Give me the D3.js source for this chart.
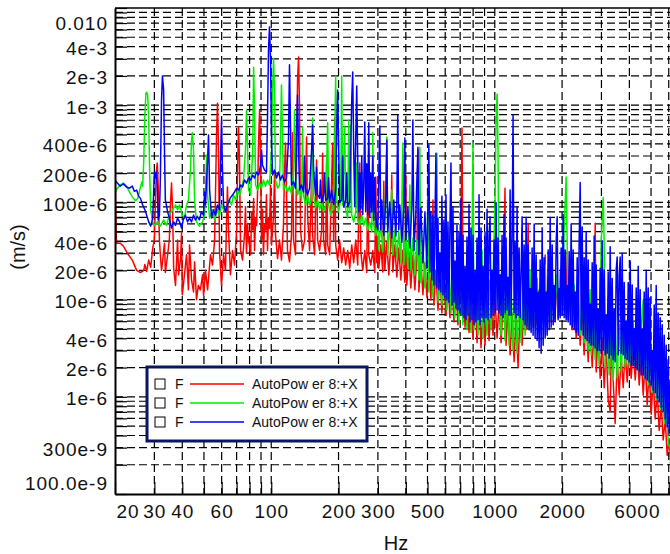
<!DOCTYPE html>
<html>
<head>
<meta charset="utf-8">
<script src="https://cdn.jsdelivr.net/npm/d3@7"></script>
<style>
  body { margin: 0; background: #fff; }
  svg { display: block; font-family: "Liberation Sans", Arial, sans-serif; }
</style>
</head>
<body>
<svg id="chart" width="670" height="554"></svg>
<script>
// values are [Hz, um/s]
const UM = 1e-6;

const xDomain = [20, 6400];
const yDomain = [1e-7, 1e-2];

const xTickVals = [20, 30, 40, 60, 100, 200, 300, 500, 1000, 2000, 6000];
const xTickText = ["20", "30", "40", "60", "100", "200", "300", "500", "1000", "2000", "6000"];
const yTickVals = [1e-2, 4e-3, 2e-3, 1e-3, 4e-4, 2e-4, 1e-4, 4e-5, 2e-5, 1e-5, 4e-6, 2e-6, 1e-6, 3e-7, 1e-7];
const yTickText = ["0.010", "4e-3", "2e-3", "1e-3", "400e-6", "200e-6", "100e-6", "40e-6", "20e-6", "10e-6", "4e-6", "2e-6", "1e-6", "300e-9", "100.0e-9"];

const legendNames = ["F", "F", "F"];
const legendLabels = ["AutoPower 8:+X", "AutoPower 8:+X", "AutoPower 8:+X"];
const seriesColors = ["#ff0000", "#00ee00", "#0000ff"];

const redPts = [[20,273],[20.1,106],[20.3,38],[21.1,38],[21.8,35.5],[22.7,30],[23.9,25.5],[25,20],[26,19],[26.9,20],[27.2,23],[27.7,19.5],[28.3,25.5],[28.9,21.5],[29.5,34],[30,41],[30.3,94],[30.6,205],[30.9,254],[31.2,151],[31.6,41],[31.9,29],[32.3,20],[32.6,24],[33.3,38],[33.6,19],[34.4,29],[35,41],[35.4,94],[35.8,158],[36.2,84],[36.6,21],[37.3,14],[38.1,41],[38.5,18],[39.3,26.5],[39.7,49.6],[40,11.2],[40.9,18],[41.8,29],[42.6,12.6],[43.1,36.5],[44,16],[44.9,12],[45.4,24.5],[46.3,10],[47.2,14],[48.2,12.6],[49.3,18],[49.8,11],[50.8,20],[51.9,12.6],[52.4,16.5],[53.5,29],[54.6,22.7],[55.8,41],[56.3,119],[56.9,494],[57.5,1050],[58.1,346],[58.7,32],[59.9,14],[61.2,29],[62.4,20],[63.1,66],[63.7,144],[64.4,52],[65.7,18],[67.1,32],[68.5,22.7],[70,52],[70.7,215],[71.4,600],[72.1,273],[72.9,32],[74.4,25.5],[75.9,46],[76.7,90],[77.5,30],[78.3,60],[79.2,41],[80.9,29],[81.7,80],[82.6,52],[83.4,110],[84.2,32],[85.1,70],[86,58],[86.9,134],[87.8,439],[88.7,893],[89.6,273],[90.5,41],[91.4,85],[92.3,29],[93.3,60],[94.3,52],[95.2,120],[96.2,32],[97.2,70],[98.2,54],[99.3,150],[100.3,36.5],[102.4,74],[103.5,205],[104.5,46],[106.7,26.5],[108.9,41],[111.1,25.5],[113.4,58],[114.6,191],[115.8,408],[117,134],[118.2,32],[120.7,24.5],[123.2,46],[124.5,520],[125.8,41],[128.4,29],[129.8,273],[131.1,1815],[132.5,3130],[133.9,893],[135.2,52],[138,32],[141,41],[143.9,470],[145.4,74],[148.4,32],[151.5,170],[153.1,46],[156.3,29],[159.5,273],[161.2,41],[164.6,32],[168,52],[169.8,320],[171.5,41],[175.1,29],[176.9,280],[178.8,36.5],[182.5,29],[188.2,408],[190.2,41],[192.2,740],[194.2,36.5],[198.2,25.5],[202.3,41],[206.6,24],[210.9,34],[215.3,22.7],[219.8,32],[224.4,21],[229.1,36.5],[233.8,24],[238.7,41],[243.7,22.7],[248.8,254],[251.4,32],[256.6,20],[262,32],[267.5,19],[270.3,230],[273,29],[278.8,22.7],[284.6,32],[290.5,19],[293.5,182],[296.5,24],
  [299.6,41],[302.7,21],[309,36.5],[315.5,19.2],[318.8,165],[322,20.2],[329,39],[335.7,17.9],[342.7,36.5],[346,191],[350,19.2],[357,36.5],[364.6,17.1],[372,34],[380,15.9],[388,32.4],[396,15],[400,191],[404,14.1],[412.7,31],[421,13.2],[430,28.8],[439,12.6],[448,27],[453,346],[457.6,12],[467,25.5],[477,11.2],[487,24],[497,10.5],[507,22.7],[518,9.9],[529,106],[534,8.8],[545,20.2],[557,7.8],[568,19.2],[580,7.3],[592,16.5],[605,6.9],[617,15.9],[630,6.5],[643,15],[657,5.9],[670,14.1],[684,5.5],[699,12.6],[706,32.4],[713,582],[720,25.5],[736,5.2],[751,12],[767,4.6],[783,11.2],[799,4.0],[816,10.5],[833,3.6],[850,9.9],[868,3.2],[886,8.8],[904,3.4],[923,9.9],[943,3.8],[962,10.5],[982,4.3],[1003,9.9],[1024,4.0],[1045,9.4],[1067,3.6],[1089,8.8],[1111,140],[1123,3.4],[1147,7.8],[1171,2.7],[1195,7.3],[1220,2.3],[1245,6.9],[1271,2.0],[1298,7.8],[1325,3.4],[1353,9.9],[1381,4.9],[1410,61],[1425,4.9],[1454,11.2],[1485,5.2],[1516,12],[1547,5.5],[1580,12.6],[1612,5.9],[1646,12.6],[1680,28.8],[1697,5.5],[1733,12],[1769,5.9],[1806,13.2],[1843,6.2],[1882,14.1],[1921,6.5],[1961,14.1],[2002,6.9],[2043,15],[2086,6.5],[2107,31],[2129,6.2],[2174,13.2],[2219,4.9],[2265,11.2],[2313,4.0],[2361,9.9],[2410,3.4],[2460,8.2],[2511,2.7],[2563,6.9],[2617,2.3],[2671,6.2],[2727,2.0],[2784,5.5],[2813,61],[2842,1.8],[2901,4.9],[2961,1.55],[3023,4.0],[3086,1.24],[3150,3.4],[3216,0.93],[3283,0.71],[3317,2.7],[3351,5.2],[3386,1.49],[3456,0.53],[3528,2.4],[3602,1.04],[3677,2.7],[3753,1.24],[3831,3.0],[3911,1.42],[3993,3.2],[4076,1.55],[4161,3.4],[4247,1.49],[4336,3.0],[4426,1.32],[4518,2.7],[4612,1.04],[4708,2.3],[4806,0.83],[4906,1.9],[5008,0.66],[5112,1.55],[5219,0.59],[5327,1.17],[5438,0.45],[5551,0.83],[5667,0.36],[5785,0.59],[5905,0.25],[6028,0.37],[6154,0.16],[6282,0.12]];

const greenPts = [[20,125],[20.5,140],[21.1,151],[21.8,158],[22.5,147],[23.2,128],[23.9,114],[24.7,104],[25.3,110],[25.8,134],[26.4,163],[26.6,147],[26.9,273],[27.2,793],[27.5,1330],[27.7,1360],[28,1270],[28.3,705],[28.6,191],[28.9,84],[29.5,63],[30,58],[30.9,63],[31.9,57],[33,66],[34,58],[35,74],[36.2,84],[37.3,94],[38.1,84],[38.9,94],[40,74],[40.9,69],[41.8,94],[42.6,106],[43.5,215],[44,439],[44.4,520],[44.9,346],[45.4,106],[46.3,63],[47.7,57],[49.3,63],[50.3,74],[50.8,134],[51.4,307],[51.9,119],[53,69],[54.6,84],[55.8,66],[57.5,84],[58.7,74],[59.9,94],[61.8,80],[63.7,94],[65,106],[66.4,94],[67.8,119],[69.2,106],[70.7,134],[72.1,119],[73.6,140],[75.1,170],[76.7,346],[77.5,893],[78.3,390],[79.2,134],[80.9,119],[82.6,346],[83.4,2460],[84.2,893],[85.1,151],[86.9,134],[88.7,158],[90.5,140],[92.3,170],[94.3,147],[96.2,170],[98.2,151],[100.3,346],[101.4,1430],[102.4,3050],[103.5,1270],[104.5,170],[106.7,140],[108.9,151],[110,439],[111.1,1614],[112.2,556],[113.4,134],[115.8,151],[118.2,128],[120.7,147],[123.2,122],[125.8,215],[127.1,893],[128.4,191],[131.1,119],[133.9,140],[136.6,106],[138,600],[139.5,119],[142.4,94],[145.4,119],[148.4,94],[151.5,110],[153.1,740],[154.7,119],[157.9,88],[161.2,106],[164.6,84],[168,101],[171.5,80],[175.1,94],[178.8,660],[180.6,94],[184.4,74],[188.2,94],[190.2,84],[194.2,2000],[196.2,106],[200,80],[204.4,106],[206.6,2000],[208.7,94],[213.1,600],[215.3,84],[219.8,69],[222.1,705],[224.4,80],[226.7,626],[229.1,74],[233.8,63],[238.7,80],[241.2,254],[243.7,66],[248.8,58],[254,74],[259.3,58],[264.7,69],[270.3,52],[276,63],[281.7,50],[284.6,520],[287.5,58],[293.5,46],
  [299.6,58.5],[302.7,32.4],[309,63],[315.5,31],[322,58.5],[329,470],[332,28.8],[339,54.5],[346,134],[350,28.8],[357,52],[364.6,27],[372,49.6],[380,24],[388,408],[392,22.7],[400,46],[408.5,21],[417,151],[421,20.2],[430,43],[439,17.9],[448,41],[457.6,15.9],[462,370],[467,15],[477,36.5],[487,13.2],[497,34],[502,106],[507,12],[518,31],[529,10.5],[540,28.8],[551,320],[557,9.4],[568,27],[580,8.8],[592,24],[605,84],[611,7.8],[624,22.7],[637,7.3],[650,21],[663,6.5],[677,20.2],[691,5.9],[699,52],[706,19.2],[720,5.5],[736,17.9],[751,4.9],[767,16.5],[783,4.6],[799,408],[807,4.9],[824,15],[841,4.3],[859,15.9],[877,32.4],[886,4.0],[904,15],[923,4.3],[943,15.9],[962,4.9],[982,16.5],[1003,106],[1013,705],[1024,1300],[1034,346],[1045,9.9],[1067,4.3],[1089,14.1],[1111,3.8],[1135,13.2],[1159,3.4],[1183,12.6],[1207,3.0],[1232,12],[1258,2.8],[1284,12.6],[1311,3.6],[1339,14.1],[1367,4.3],[1396,15],[1425,4.9],[1439,20.2],[1454,4.9],[1485,15.9],[1516,5.2],[1547,16.5],[1580,5.5],[1612,15.9],[1646,5.9],[1680,22.7],[1697,5.9],[1733,16.5],[1769,6.2],[1806,17.9],[1843,6.5],[1882,17.9],[1921,6.5],[1961,19.2],[2002,6.9],[2043,52],[2086,182],[2107,41],[2129,6.5],[2174,15.9],[2219,5.9],[2265,14.1],[2313,5.2],[2361,13.2],[2410,4.3],[2460,12],[2511,3.6],[2563,10.5],[2617,3.0],[2671,12.6],[2699,2.7],[2755,8.8],[2813,2.4],[2871,7.8],[2931,2.1],[2992,38],[3055,112],[3086,38],[3118,2.0],[3183,6.5],[3249,1.68],[3317,5.9],[3386,1.49],[3456,5.5],[3528,1.55],[3602,5.5],[3677,1.8],[3753,5.9],[3831,2.0],[3911,6.2],[3993,2.1],[4034,6.2],[4076,2.1],[4161,5.9],[4247,2.0],[4336,5.5],[4426,1.8],[4518,4.9],[4612,9.9],[4660,1.55],[4757,4.3],[4856,1.32],[4957,3.8],[5060,1.1],[5165,3.8],[5273,0.93],[5383,2.7],[5495,0.74],[5609,1.9],[5726,0.53],[5845,1.04],[5967,0.33],[6091,0.30],[6218,0.19],[6347,0.16]];

const bluePts = [[20,170],[20.5,158],[21.1,147],[21.8,155],[22.5,144],[23.2,140],[23.9,147],[24.4,130],[25,134],[25.5,116],[26,110],[26.6,94],[27.2,84],[27.7,74],[28.3,63],[28.9,57],[29.5,69],[30,205],[30.3,178],[30.6,205],[30.9,151],[31.2,66],[31.6,74],[31.9,170],[32.3,1130],[32.6,2000],[33,1430],[33.3,346],[33.6,106],[34.4,80],[35,69],[35.8,54.5],[36.6,63],[37.3,58],[38.1,69],[38.9,63],[39.7,54.5],[40.4,66],[41.3,74],[42.2,63],[43.1,69],[44,63],[44.9,74],[45.8,66],[46.7,72],[47.7,66],[48.7,80],[49.8,74],[50.3,128],[50.8,94],[51.9,273],[52.4,494],[53,134],[54.1,69],[55.2,84],[56.3,74],[57.5,94],[58.7,84],[59.3,273],[59.9,705],[60.5,215],[61.2,94],[62.4,80],[63.7,94],[65,106],[65.7,112],[67.1,119],[68.5,128],[70,140],[71.4,134],[72.9,151],[74.4,144],[75.9,170],[77.5,158],[79.2,178],[80.9,170],[82.6,191],[84.2,178],[86,205],[87.8,191],[89.6,243],[90.5,346],[91.4,243],[93.3,215],[95.2,205],[96.2,705],[97.2,3700],[98.2,6380],[99.3,2917],[100.3,439],
  [101.4,191],[103.5,215],[105.6,178],[107.8,205],[110,170],[112.2,191],[114.6,163],[117,178],[119.4,439],[120.7,2600],[122,556],[123.2,151],[125.8,163],[128.4,140],[129.8,556],[131.1,1270],[132.5,346],[133.9,134],[136.6,151],[139.5,128],[141,300],[142.4,140],[145.4,119],[148.4,140],[151.5,346],[153.1,626],[154.7,215],[157.9,119],[159.5,230],[161.2,120],[164.6,110],[166,170],[168,100],[171.5,119],[173,200],[175.1,105],[178.8,110],[180.6,180],[182.5,100],[186.3,134],[190.2,95],[194.2,134],[196.2,556],[198.2,1430],[200.3,346],[202.3,100],[206.6,106],[208.7,300],[210.9,90],[215.3,106],[217.5,200],[219.8,90],[224.4,101],[226.7,346],[229.1,1130],[231.4,2200],[233.8,346],[236.3,90],[238.7,439],[241.2,1580],[243.7,273],[246.2,80],[248.8,200],[251.4,85],[254,300],[256.6,75],[259.3,150],[262,670],[264.7,80],[267.5,250],[270.3,75],[273,660],[276,70],[278.8,200],[281.7,80],[284.6,300],[287.5,65],[290.5,180],[293.5,70],
  [299.6,52],[306,610],[309,52],[312,106],[319,46],[325.5,110],[329,439],[332,49.6],[339,101],[346,43],[353.5,106],[361,45],[364.6,106],[368,793],[372,52],[376,94],[384,39],[392,94],[396,460],[400,41],[408.5,88],[417,34],[426,94],[430,705],[435,32],[444,84],[453,370],[457.6,29],[467,88],[477,24],[487,80],[497,21],[507,390],
  [512.6,19.2],[517.9,80],[523.3,15.9],[528.7,74],[534.2,14.1],[539.8,63],[545.4,320],[551,13.2],[556.8,69],[562.5,12.6],[568.4,30],[574.3,12],[580.2,116],[586.2,11.2],[592.3,66],[598.5,10.5],[604.7,120],[610.9,9.9],[617.3,63],[623.7,9.4],[630.2,58.5],[636.7,254],[643.3,8.8],[650,90],[656.8,9.4],[663.6,25],[670.5,8.2],[677.4,58.5],[684.5,7.8],[691.6,49.6],[698.7,7.3],[706,110],[713.3,6.9],[720.7,46],[728.2,6.5],[735.8,22],[743.4,6.2],[751.1,44],[758.9,6.9],[766.8,95],[774.7,5.9],[782.8,54.5],[790.9,6.2],[799.1,46],[807.4,5.5],[815.8,20],[824.2,5.9],[832.8,43],[841.4,6.2],[850.2,120],[859,5.5],[867.9,54.5],[876.9,6.5],[886,22],[895.2,5.9],[904.5,49.6],[913.9,6.5],[923.4,85],[932.9,6.2],[942.6,46],[952.4,71],[962.3,6.5],[972.2,20],[982.3,6.9],[992.5,41],[1002.8,7.3],[1013.2,100],[1023.7,7.8],[1034.3,43],[1045.1,7.3],[1056,18],[1067,6.9],[1078,46],[1089,6.5],[1100,75],[1112,7.3],[1123,43],[1135,7.8],[1147,17],[1159,6.9],[1171,134],[1183,6.9],[1195,41],[1207,793],[1220,7.3],[1233,39],[1245,6.5],[1258,90],[1271,6.9],[1285,34],[1298,6.5],[1311,17],[1325,71],[1339,6.2],[1353,36.5],[1367,5.5],[1381,70],[1395,5.2],[1410,36.5],[1424,4.9],[1439,13],[1454,4.6],[1469,34],[1484,4.3],[1500,60],[1515,4.0],[1531,28.8],[1547,3.8],[1563,12],[1579,3.2],[1596,25.5],[1612,2.8],[1629,55],[1646,3.4],[1663,27],[1680,4.0],[1697,12],[1715,4.3],[1733,32.4],[1751,4.9],[1769,70],[1787,5.2],[1806,36.5],[1825,5.5],[1843,14],[1863,5.9],[1882,39],[1901,71],[1921,6.2],[1941,13],[1961,6.5],[1981,34],[2002,6.9],[2022,75],[2043,6.5],[2065,32.4],[2086,6.2],[2108,14],[2129,5.9],[2152,31],[2174,5.5],[2196,60],[2219,5.2],[2242,32.4],[2265,4.9],[2289,12],[2313,4.6],[2337,27],[2361,4.3],[2385,41],[2410,160],[2435,4.9],[2460,56],[2486,4.3],[2511,27],[2537,4.0],[2563,50],[2590,3.8],[2617,25.5],[2644,3.6],[2671,9],[2699,3.4],[2727,24],[2755,3.4],[2784,45],[2813,3.2],[2842,22.7],[2871,3.0],[2901,8],[2931,3.0],[2961,21],[2992,2.8],[3023,40],[3054,3.0],[3086,20.2],[3118,2.7],[3150,7],[3183,2.8],[3216,19.2],[3249,2.5],[3283,35],[3317,2.7],[3351,16.5],[3386,2.4],[3421,8],[3456,2.3],[3492,20.2],[3528,27.4],[3565,2.7],[3602,17.9],[3639,27.4],[3677,2.8],[3715,30],[3753,2.7],[3792,15],[3831,2.5],[3871,6],[3911,2.4],[3952,15],[3993,2.3],[4034,25],[4076,2.1],[4118,14.1],[4161,2.1],[4204,5],[4247,2.0],[4291,13.2],[4336,1.9],[4381,22],[4426,1.8],[4472,12.6],[4518,1.68],[4565,5],[4612,1.68],[4660,12],[4708,1.55],[4757,20],[4806,1.49],[4856,13.2],[4906,1.42],[4957,10.5],[5008,1.32],[5060,3],[5112,1.17],[5165,8.8],[5219,1.1],[5273,14],[5327,0.97],[5383,7.3],[5438,0.89],[5495,6.5],[5551,0.78],[5609,5.5],[5667,0.71],[5726,4.3],[5785,0.59],[5845,3.4],[5905,0.49],[5967,2.4],[6028,0.42],[6091,1.49],[6154,0.33],[6218,0.93],[6282,0.27],[6347,0.47]];

const series = [redPts, greenPts, bluePts];

const plot = {left: 115, right: 675, top: 8, bottom: 494};
const svg = d3.select("#chart");

const x = d3.scaleLog().domain(xDomain).range([plot.left, plot.right]);
const y = d3.scaleLog().domain(yDomain).range([plot.bottom, plot.top]);

function sameLog(a, b) { return Math.abs(Math.log10(a) - Math.log10(b)) < 1e-6; }

const gridX = x.ticks().filter(d => d > xDomain[0] * 1.001);
const gridY = y.ticks().filter(d => d > yDomain[0] * 1.001 && d < yDomain[1] * 0.999);

svg.append("defs").append("clipPath").attr("id", "plotclip")
    .append("rect")
    .attr("x", plot.left).attr("y", plot.top)
    .attr("width", plot.right - plot.left).attr("height", plot.bottom - plot.top);

// dashed grid
let grid = svg.append("g").attr("class", "grid")
    .attr("stroke", "#000").attr("stroke-width", 1.2).attr("stroke-dasharray", "8,4");
grid.selectAll(".gx").data(gridX).join("line").attr("class", "gx")
    .attr("x1", d => x(d)).attr("x2", d => x(d))
    .attr("y1", plot.top).attr("y2", plot.bottom);
grid.selectAll(".gy").data(gridY).join("line").attr("class", "gy")
    .attr("x1", plot.left).attr("x2", plot.right)
    .attr("y1", d => y(d)).attr("y2", d => y(d));

// spectra
let line = d3.line()
    .x(d => x(d[0]))
    .y(d => y(d[1] * UM));

svg.append("g").attr("clip-path", "url(#plotclip)")
    .selectAll("path").data(series).join("path")
    .attr("d", d => line(d))
    .attr("fill", "none")
    .attr("stroke", (d, i) => seriesColors[i])
    .attr("stroke-width", 1.5)
    .attr("stroke-linejoin", "round");

// axes
let xAxis = d3.axisBottom(x)
    .tickValues([xDomain[0]].concat(gridX))
    .tickSize(-12).tickSizeOuter(0).tickPadding(11)
    .tickFormat(d => {
        let i = xTickVals.findIndex(v => sameLog(v, d));
        return i < 0 ? "" : xTickText[i];
    });

let gx = svg.append("g").attr("transform", "translate(0," + plot.bottom + ")").call(xAxis);

let yAxis = d3.axisLeft(y)
    .tickValues([yDomain[0]].concat(gridY, [yDomain[1]]))
    .tickSize(-12).tickSizeOuter(0).tickPadding(7)
    .tickFormat(d => {
        let i = yTickVals.findIndex(v => sameLog(v, d));
        return i < 0 ? "" : yTickText[i];
    });

let gy = svg.append("g").attr("transform", "translate(" + plot.left + ",0)").call(yAxis);

[gx, gy].forEach(g => {
    g.select(".domain").attr("stroke", "#000").attr("stroke-width", 2);
    g.selectAll(".tick line").attr("stroke", "#000").attr("stroke-width", 1.2);
    g.selectAll(".tick text")
        .attr("fill", "#111")
        .style("font-size", "19px")
        .style("letter-spacing", "1px")
        .style("font-family", "'Liberation Sans', Arial, sans-serif");
});

gy.selectAll(".tick text").attr("dy", "0.42em");

// end labels are pushed inside the frame
gx.selectAll(".tick text").filter(d => sameLog(d, xDomain[0]))
    .attr("text-anchor", "start").attr("x", 1);
gx.selectAll(".tick text").filter(d => sameLog(d, 6000))
    .attr("text-anchor", "end").attr("x", 660 - x(6000));
gy.selectAll(".tick text").filter(d => sameLog(d, yDomain[1])).attr("y", 14);
gy.selectAll(".tick text").filter(d => sameLog(d, yDomain[0])).attr("y", -12);

// top frame line
svg.append("line")
    .attr("x1", plot.left).attr("x2", plot.right)
    .attr("y1", plot.top).attr("y2", plot.top)
    .attr("stroke", "#000").attr("stroke-width", 1.6);

// axis titles
svg.append("text")
    .attr("transform", "translate(18,247) rotate(-90)")
    .attr("text-anchor", "middle").attr("dominant-baseline", "central")
    .style("font-size", "20px").attr("fill", "#111")
    .text("(m/s)");

svg.append("text")
    .attr("x", 396).attr("y", 550)
    .attr("text-anchor", "middle")
    .style("font-size", "20px").attr("fill", "#111")
    .text("Hz");

// legend
let legend = svg.append("g").attr("class", "legend");
legend.append("rect")
    .attr("x", 147).attr("y", 367).attr("width", 220).attr("height", 74)
    .attr("fill", "#fff").attr("stroke", "#0b1660").attr("stroke-width", 3);

let items = legend.selectAll(".item").data(legendLabels).join("g")
    .attr("class", "item")
    .attr("transform", (d, i) => "translate(0," + (384 + 19 * i) + ")");

items.append("rect")
    .attr("x", 155).attr("y", -5).attr("width", 10).attr("height", 10)
    .attr("fill", "#fff").attr("stroke", "#000").attr("stroke-width", 1);
items.append("text")
    .attr("x", 175).attr("dy", "0.35em")
    .style("font-size", "14px").attr("fill", "#111")
    .text((d, i) => legendNames[i]);
items.append("line")
    .attr("x1", 190).attr("x2", 244)
    .attr("stroke", (d, i) => seriesColors[i]).attr("stroke-width", 1.4);
let lbl = items.append("text")
    .attr("x", 252).attr("dy", "0.35em")
    .style("font-size", "14px").attr("fill", "#111");
lbl.append("tspan").text(d => d.slice(0, 7));
lbl.append("tspan").attr("dx", 4).text(d => d.slice(7));
</script>
</body>
</html>
